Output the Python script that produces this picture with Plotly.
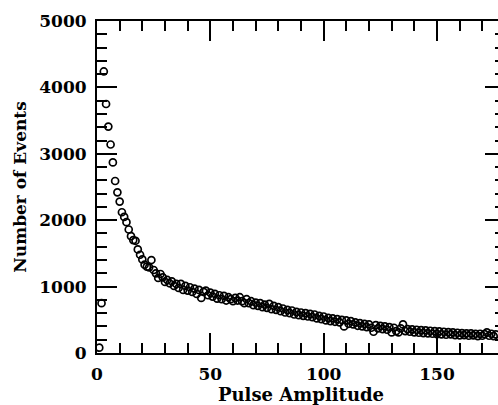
import plotly.graph_objects as go

# Pulse amplitude channels (1..176) and counts
amplitude = list(range(1, 177))
events = [
    80, 750, 4240, 3750, 3410, 3140, 2870, 2590, 2420, 2280,
    2120, 2050, 1970, 1860, 1760, 1700, 1690, 1560, 1480, 1410,
    1330, 1300, 1290, 1400, 1250, 1200, 1130, 1190, 1140, 1070,
    1100, 1050, 1080, 1010, 1040, 980, 1040, 950, 1010, 940,
    990, 920, 970, 890, 950, 830, 920, 940, 870, 910,
    850, 890, 820, 870, 810, 860, 790, 840, 810, 780,
    830, 790, 840, 780, 750, 810, 750, 780, 720, 760,
    710, 750, 690, 730, 680, 740, 660, 710, 650, 690,
    630, 670, 610, 650, 600, 640, 580, 620, 570, 610,
    560, 600, 550, 590, 540, 580, 520, 560, 510, 550,
    490, 530, 480, 520, 470, 510, 460, 500, 400, 490,
    440, 480, 430, 460, 410, 450, 400, 440, 390, 430,
    380, 320, 420, 370, 410, 360, 400, 350, 390, 310,
    380, 330, 310, 370, 430, 330, 360, 320, 355, 310,
    350, 305, 345, 300, 340, 295, 335, 290, 330, 285,
    325, 280, 320, 275, 315, 280, 310, 270, 305, 265,
    300, 270, 295, 260, 295, 265, 290, 255, 290, 260,
    285, 310, 260, 290, 255, 280,
]

x_ticks = [0, 50, 100, 150]
y_ticks = [0, 1000, 2000, 3000, 4000, 5000]

font_family = "DejaVu Serif"

fig = go.Figure()
fig.add_trace(go.Scatter(
    x=amplitude, y=events, mode="markers",
    marker=dict(symbol="circle-open", size=7, color="black",
                line=dict(color="black", width=1.7)),
    showlegend=False,
))

axis_common = dict(
    showgrid=False, zeroline=False, showline=True, linecolor="black",
    linewidth=2, mirror="allticks", ticks="inside", tickwidth=2,
    ticklen=20, tickcolor="black",
    tickfont=dict(family=font_family, size=17, color="black", weight="bold"),
)

fig.update_xaxes(
    **axis_common, range=[0, 180], tickvals=x_ticks, ticklabelstandoff=5,
    minor=dict(dtick=10, ticks="inside", ticklen=10, tickwidth=2, tickcolor="black"),
    title=dict(text="Pulse Amplitude", standoff=4,
               font=dict(family=font_family, size=18, color="black", weight="bold")),
)
fig.update_yaxes(
    **axis_common, range=[0, 5000], tickvals=y_ticks, ticklabelstandoff=5,
    minor=dict(dtick=200, ticks="inside", ticklen=10, tickwidth=2, tickcolor="black"),
    title=dict(text="Number of Events", standoff=8,
               font=dict(family=font_family, size=17, color="black", weight="bold")),
)

fig.update_layout(
    width=508, height=405,
    margin=dict(l=97, r=1, t=21, b=52),
    paper_bgcolor="white", plot_bgcolor="white",
)

fig.write_html(
    "out.html",
    post_script="document.body.style.margin='0';document.body.style.overflow='hidden';"
                "document.documentElement.style.overflow='hidden';",
)
